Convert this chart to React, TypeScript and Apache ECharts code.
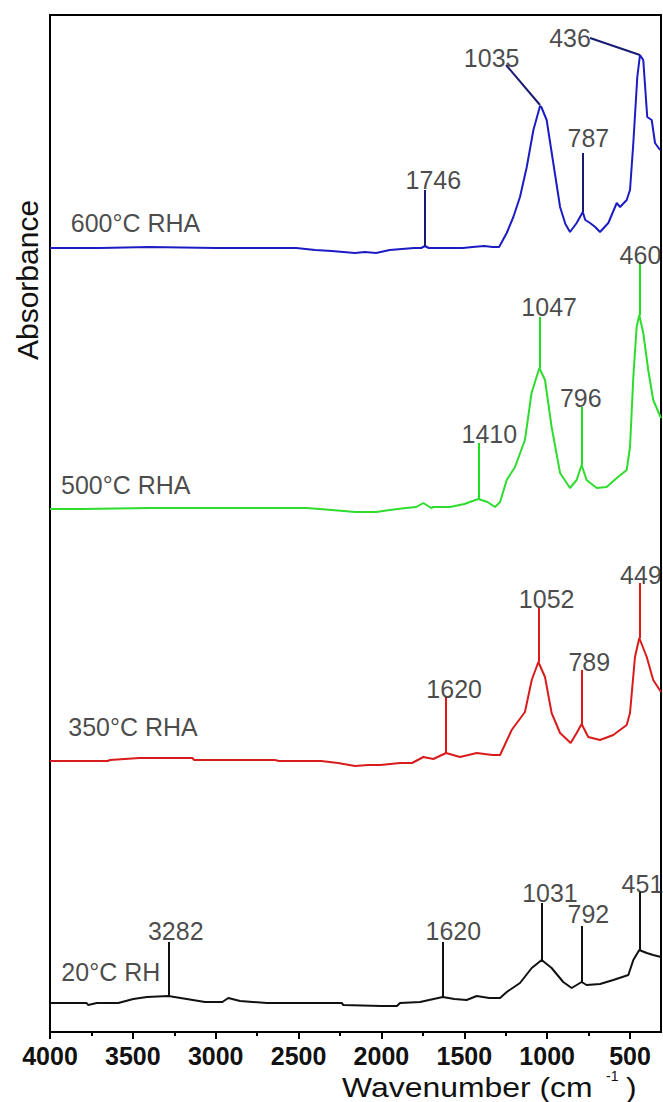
import React, { useEffect, useRef } from 'react';
import * as echarts from 'echarts';

const FONT = '"Liberation Sans", Arial, Helvetica, sans-serif';

// x ticks (wavenumber, cm-1)
const majorTicks = [4000, 3500, 3000, 2500, 2000, 1500, 1000, 500];
const minorTicks = [3750, 3250, 2750, 2250, 1750, 1250, 750];

// Spectra: [wavenumber, absorbance (offset, a.u.)]
const rha600: [number, number][] = [
  [4000, 7.84], [3700, 7.84], [3400, 7.85], [3000, 7.84], [2515, 7.84], [2400, 7.82], [2300, 7.81],
  [2160, 7.79], [2100, 7.80], [2032, 7.79], [1950, 7.82], [1803, 7.84], [1760, 7.84], [1737, 7.86],
  [1715, 7.84], [1600, 7.84], [1508, 7.84], [1450, 7.85], [1380, 7.86], [1330, 7.85], [1290, 7.85],
  [1244, 7.99], [1204, 8.15], [1164, 8.35], [1123, 8.65], [1083, 9.02], [1043, 9.26], [1035, 9.25],
  [1003, 9.12], [963, 8.69], [922, 8.25], [890, 8.08], [862, 8.00], [822, 8.09], [785, 8.20],
  [770, 8.12], [741, 8.09], [710, 8.05], [681, 8.00], [631, 8.09], [580, 8.29], [560, 8.25],
  [520, 8.32], [500, 8.42], [480, 8.89], [456, 9.55], [440, 9.77], [420, 9.72], [396, 9.15],
  [369, 9.12], [349, 8.89], [319, 8.82],
];
const rha500: [number, number][] = [
  [4000, 5.23], [3800, 5.23], [3400, 5.24], [3000, 5.24], [2452, 5.24], [2300, 5.22], [2159, 5.20],
  [2032, 5.20], [1950, 5.22], [1852, 5.24], [1790, 5.25], [1747, 5.29], [1700, 5.24], [1687, 5.25],
  [1586, 5.25], [1500, 5.28], [1415, 5.33], [1360, 5.30], [1315, 5.25], [1284, 5.30], [1244, 5.52],
  [1194, 5.65], [1134, 5.92], [1094, 6.39], [1047, 6.64], [1013, 6.52], [973, 6.05], [922, 5.59],
  [862, 5.44], [822, 5.52], [792, 5.67], [762, 5.52], [701, 5.44], [641, 5.45], [580, 5.54],
  [520, 5.62], [500, 5.85], [480, 6.55], [460, 7.05], [444, 7.17], [420, 6.99], [390, 6.62],
  [360, 6.32], [313, 6.14],
];
const rha350: [number, number][] = [
  [4000, 2.71], [3651, 2.71], [3638, 2.72], [3460, 2.74], [3141, 2.74], [3130, 2.72], [2643, 2.72],
  [2618, 2.71], [2364, 2.71], [2262, 2.69], [2159, 2.66], [2080, 2.67], [2005, 2.67], [1888, 2.69],
  [1815, 2.69], [1747, 2.75], [1687, 2.73], [1610, 2.79], [1526, 2.75], [1425, 2.79], [1330, 2.77],
  [1284, 2.77], [1214, 3.02], [1134, 3.20], [1093, 3.52], [1053, 3.70], [1013, 3.55], [973, 3.19],
  [922, 2.99], [858, 2.89], [822, 2.99], [792, 3.08], [752, 2.95], [681, 2.92], [601, 2.97],
  [520, 3.07], [500, 3.19], [470, 3.75], [444, 3.94], [399, 3.75], [360, 3.52], [313, 3.40],
];
const rh20: [number, number][] = [
  [4000, 0.29], [3779, 0.29], [3770, 0.27], [3718, 0.29], [3588, 0.29], [3497, 0.33], [3416, 0.35],
  [3286, 0.36], [3175, 0.33], [3065, 0.30], [2960, 0.30], [2924, 0.34], [2853, 0.31], [2692, 0.29],
  [2240, 0.29], [2230, 0.27], [2000, 0.26], [1906, 0.26], [1888, 0.29], [1767, 0.30], [1630, 0.35],
  [1560, 0.33], [1486, 0.32], [1425, 0.36], [1350, 0.34], [1284, 0.34], [1244, 0.40], [1164, 0.49],
  [1093, 0.64], [1033, 0.72], [973, 0.64], [903, 0.50], [852, 0.44], [812, 0.48], [792, 0.50],
  [762, 0.47], [681, 0.48], [601, 0.52], [510, 0.57], [480, 0.72], [444, 0.82], [399, 0.79],
  [360, 0.77], [313, 0.75],
];

// Peak marker lines: [wavenumber, from, to]
const marks600: [number, number, number][] = [[1737, 7.86, 8.42], [785, 8.20, 8.79]];
// Leader lines: [x1, y1, x2, y2]
const leaders600: [number, number, number, number][] = [[1043, 9.27, 1248, 9.67], [440, 9.77, 741, 9.94]];
const marks500: [number, number, number][] = [[1415, 5.33, 5.89], [1047, 6.64, 7.15], [792, 5.67, 6.25], [444, 7.17, 7.69]];
const marks350: [number, number, number][] = [[1610, 2.79, 3.35], [1053, 3.70, 4.24], [792, 3.08, 3.62], [444, 3.94, 4.49]];
const marks20: [number, number, number][] = [[3286, 0.36, 0.90], [1630, 0.35, 0.90], [1033, 0.72, 1.29], [792, 0.50, 1.06], [444, 0.82, 1.40]];

// Text annotations: [text, wavenumber, absorbance]
const peakLabels: [string, number, number][] = [
  ['1746', 1687, 8.52], ['1035', 1335, 9.745], ['787', 751, 8.94], ['436', 862, 9.94],
  ['1410', 1349, 5.98], ['1047', 988, 7.25], ['796', 797, 6.345], ['460', 437, 7.77],
  ['1620', 1561, 3.43], ['1052', 1003, 4.33], ['789', 746, 3.70], ['449', 434, 4.57],
  ['3282', 3241, 1.01], ['1620', 1566, 1.01], ['1031', 983, 1.395], ['792', 751, 1.18], ['451', 425, 1.48],
];
const sampleLabels: [string, number, number][] = [
  ['600°C RHA', 3484, 8.087], ['500°C RHA', 3543, 5.47], ['350°C RHA', 3499, 3.05], ['20°C RH', 3633, 0.603],
];

function spectrum(
  name: string,
  data: [number, number][],
  color: string,
  markColor: string,
  marks: [number, number, number][],
  leaders: [number, number, number, number][] = []
) {
  return {
    type: 'line',
    name,
    data,
    symbol: 'none',
    showSymbol: false,
    silent: true,
    lineStyle: { color, width: 2 },
    itemStyle: { color },
    markLine: {
      silent: true,
      symbol: ['none', 'none'],
      label: { show: false },
      emphasis: { disabled: true },
      lineStyle: { color: markColor, width: 2, type: 'solid' },
      data: [
        ...marks.map(([x, y1, y2]) => [{ coord: [x, y1] }, { coord: [x, y2] }]),
        ...leaders.map(([x1, y1, x2, y2]) => [{ coord: [x1, y1] }, { coord: [x2, y2] }]),
      ],
    },
  };
}

function textSeries(items: [string, number, number][]) {
  return {
    type: 'scatter',
    silent: true,
    symbolSize: 1,
    itemStyle: { color: 'rgba(0,0,0,0)' },
    z: 5,
    label: {
      show: true,
      position: 'inside',
      formatter: '{b}',
      fontSize: 25,
      color: '#1a1a1a',
      fontFamily: FONT,
    },
    data: items.map(([t, x, y]) => ({ name: t, value: [x, y] })),
  };
}

export default function App() {
  const ref = useRef<HTMLDivElement>(null);
  useEffect(() => {
    if (!ref.current) return;
    const chart = echarts.init(ref.current, null, { renderer: 'svg' });
    const option = {
      animation: false,
      backgroundColor: '#fff',
      grid: { left: 50, right: 2, top: 15, bottom: 70, show: true, borderColor: '#000', borderWidth: 2, backgroundColor: 'transparent' },
      xAxis: [
        {
          type: 'value', min: 313, max: 4000, inverse: true, position: 'bottom',
          axisLine: { show: true, onZero: false, lineStyle: { color: '#000', width: 2 } },
          axisTick: { show: true, customValues: majorTicks, length: 7, lineStyle: { color: '#000', width: 2 } },
          axisLabel: {
            customValues: majorTicks, showMaxLabel: true, showMinLabel: true,
            formatter: (v: number) => String(v),
            fontSize: 25, lineHeight: 21, fontWeight: 'bold', color: '#111', margin: 13, fontFamily: FONT,
          },
          splitLine: { show: false },
        },
        {
          type: 'value', min: 313, max: 4000, inverse: true, position: 'bottom',
          axisLine: { show: false },
          axisTick: { show: true, customValues: minorTicks, length: 4, lineStyle: { color: '#000', width: 2 } },
          axisLabel: { show: false },
          splitLine: { show: false },
        },
      ],
      yAxis: {
        type: 'value', min: 0, max: 10.17,
        axisLine: { show: false }, axisTick: { show: false }, axisLabel: { show: false }, splitLine: { show: false },
      },
      graphic: [
        {
          type: 'text', x: 27, y: 280, rotation: Math.PI / 2,
          style: { text: 'Absorbance', fontSize: 30, fontFamily: FONT, fill: '#111', align: 'center', verticalAlign: 'middle', textAlign: 'center', textVerticalAlign: 'middle' },
        },
        {
          type: 'text', x: 342, y: 1087, scaleX: 1.14,
          style: { text: 'Wavenumber (cm', fontSize: 28, fontFamily: FONT, fill: '#111', align: 'left', verticalAlign: 'middle', textAlign: 'left', textVerticalAlign: 'middle' },
        },
        {
          type: 'text', x: 606, y: 1076,
          style: { text: '-1', fontSize: 14, fontFamily: FONT, fill: '#111', align: 'left', verticalAlign: 'middle', textAlign: 'left', textVerticalAlign: 'middle' },
        },
        {
          type: 'text', x: 626, y: 1087, scaleX: 1.14,
          style: { text: ')', fontSize: 28, fontFamily: FONT, fill: '#111', align: 'left', verticalAlign: 'middle', textAlign: 'left', textVerticalAlign: 'middle' },
        },
      ],
      series: [
        spectrum('600°C RHA', rha600, '#1c1cc4', '#1a1a70', marks600, leaders600),
        spectrum('500°C RHA', rha500, '#2edc2e', '#1ee01e', marks500),
        spectrum('350°C RHA', rha350, '#d81c1c', '#e01818', marks350),
        spectrum('20°C RH', rh20, '#111111', '#111111', marks20),
        textSeries(peakLabels),
        textSeries(sampleLabels),
      ],
    };
    chart.setOption(option as any);
    return () => chart.dispose();
  }, []);
  return (
    <div
      ref={ref}
      style={{ position: 'absolute', left: 0, top: 0, width: 663, height: 1102, background: '#fff' }}
    />
  );
}
